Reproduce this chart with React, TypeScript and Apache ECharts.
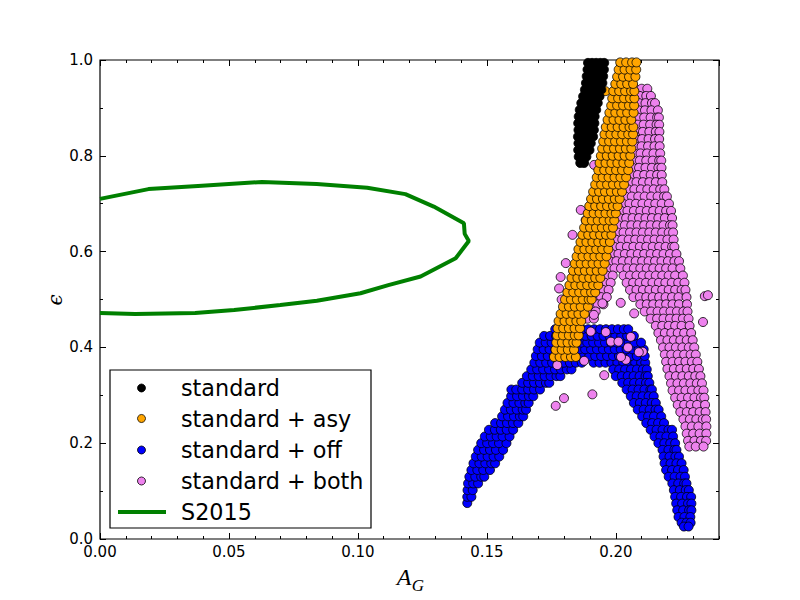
import React, { useEffect, useRef } from "react";
import * as echarts from "echarts";

// ---------- axis ranges / ticks ----------
const X_MIN = 0;
const X_MAX = 0.24;
const X_MAJOR = 0.05;
const X_MINOR = 0.01;
const Y_MIN = 0;
const Y_MAX = 1.0;
const Y_MAJOR = 0.2;

const seriesNames = ["standard", "standard + asy", "standard + off", "standard + both", "S2015"];
const seriesColors = ["#000000", "#FFA500", "#0000FF", "#EE82EE", "#008000"];

// ---------- data (rows: [epsilon, A_G values...]) ----------
const standardRows: number[][] = [
  [0.785, 0.1862, 0.1877],
  [0.798, 0.1856, 0.1871, 0.1886],
  [0.812, 0.1854, 0.1869, 0.1884, 0.1898],
  [0.826, 0.1855, 0.1871, 0.1887, 0.1903],
  [0.84, 0.1853, 0.1869, 0.1885, 0.1901, 0.1912],
  [0.854, 0.1855, 0.1871, 0.1887, 0.1903, 0.1915],
  [0.868, 0.1854, 0.187, 0.1886, 0.1902, 0.1917],
  [0.882, 0.1856, 0.1872, 0.1888, 0.1904, 0.1918],
  [0.896, 0.186, 0.1876, 0.1892, 0.1908, 0.1924],
  [0.91, 0.1866, 0.1882, 0.1898, 0.1914, 0.193],
  [0.924, 0.1873, 0.1889, 0.1905, 0.1921, 0.1937],
  [0.938, 0.188, 0.1896, 0.1912, 0.1928, 0.1944],
  [0.952, 0.1884, 0.19, 0.1916, 0.1932, 0.1948],
  [0.966, 0.1887, 0.1903, 0.1919, 0.1935, 0.1951],
  [0.98, 0.189, 0.1906, 0.1922, 0.1938, 0.1954],
  [0.994, 0.1892, 0.1908, 0.1924, 0.194, 0.1955],
];

const asyRows: number[][] = [
  [0.38, 0.176, 0.1782, 0.1804, 0.1826, 0.1845],
  [0.395, 0.1766, 0.179, 0.1814, 0.1838],
  [0.41, 0.1769, 0.1791, 0.1813, 0.1835, 0.1848],
  [0.425, 0.1772, 0.1795, 0.1818, 0.1841, 0.1856],
  [0.44, 0.1774, 0.1796, 0.1818, 0.184, 0.1861],
  [0.455, 0.1778, 0.1801, 0.1824, 0.1847, 0.1866],
  [0.47, 0.1786, 0.1809, 0.1832, 0.1855, 0.1879],
  [0.485, 0.1795, 0.1818, 0.1841, 0.1864, 0.1892],
  [0.5, 0.1803, 0.1826, 0.1849, 0.1872, 0.1895, 0.1906],
  [0.515, 0.1812, 0.1835, 0.1858, 0.1881, 0.1904, 0.192],
  [0.53, 0.182, 0.1843, 0.1866, 0.1889, 0.1912, 0.1932],
  [0.545, 0.1828, 0.1851, 0.1874, 0.1897, 0.192, 0.194],
  [0.56, 0.1834, 0.1857, 0.188, 0.1903, 0.1926, 0.1949],
  [0.575, 0.1841, 0.1864, 0.1887, 0.191, 0.1933, 0.1957],
  [0.59, 0.1848, 0.1871, 0.1894, 0.1917, 0.194, 0.1964],
  [0.605, 0.1855, 0.1878, 0.1901, 0.1924, 0.1947, 0.1971],
  [0.62, 0.1863, 0.1886, 0.1909, 0.1932, 0.1955, 0.1977],
  [0.635, 0.187, 0.1893, 0.1916, 0.1939, 0.1962, 0.1983],
  [0.65, 0.1877, 0.19, 0.1923, 0.1946, 0.1969, 0.1989],
  [0.665, 0.1884, 0.1907, 0.193, 0.1953, 0.1976, 0.1994],
  [0.68, 0.1891, 0.1914, 0.1937, 0.196, 0.1983, 0.2],
  [0.695, 0.1897, 0.192, 0.1943, 0.1966, 0.1989, 0.2007],
  [0.71, 0.1904, 0.1927, 0.195, 0.1973, 0.1996, 0.2015],
  [0.725, 0.1912, 0.1935, 0.1958, 0.1981, 0.2004, 0.2024],
  [0.74, 0.192, 0.1943, 0.1966, 0.1989, 0.2012, 0.2032],
  [0.755, 0.1926, 0.1949, 0.1972, 0.1995, 0.2018, 0.204],
  [0.77, 0.1932, 0.1955, 0.1978, 0.2001, 0.2024, 0.2048],
  [0.785, 0.1937, 0.196, 0.1983, 0.2006, 0.2029, 0.2052],
  [0.8, 0.1942, 0.1965, 0.1988, 0.2011, 0.2034, 0.2056],
  [0.815, 0.1947, 0.197, 0.1993, 0.2016, 0.2039, 0.206],
  [0.83, 0.1951, 0.1974, 0.1997, 0.202, 0.2043, 0.2064],
  [0.845, 0.1956, 0.1979, 0.2002, 0.2025, 0.2048, 0.2067],
  [0.86, 0.1961, 0.1984, 0.2007, 0.203, 0.2053, 0.2068],
  [0.875, 0.1968, 0.1991, 0.2014, 0.2037, 0.206],
  [0.89, 0.1975, 0.1998, 0.2021, 0.2044, 0.2069],
  [0.905, 0.1982, 0.2005, 0.2028, 0.2051, 0.2071],
  [0.92, 0.1986, 0.2009, 0.2032, 0.2055, 0.2072],
  [0.935, 0.196, 0.199, 0.2013, 0.2036, 0.2059, 0.2072],
  [0.95, 0.1998, 0.2021, 0.2044, 0.2067],
  [0.965, 0.2005, 0.2028, 0.2051, 0.2076],
  [0.98, 0.2011, 0.2034, 0.2057, 0.2079],
  [0.995, 0.2017, 0.204, 0.2063, 0.208],
];

const offLeftRows: number[][] = [
  [0.075, 0.1424],
  [0.088, 0.1424, 0.144],
  [0.102, 0.1425, 0.1445],
  [0.116, 0.1427, 0.1447, 0.1466],
  [0.13, 0.1432, 0.1455, 0.1478, 0.149],
  [0.144, 0.144, 0.1463, 0.1486, 0.1512],
  [0.158, 0.1448, 0.1471, 0.1494, 0.1517, 0.1532],
  [0.172, 0.1457, 0.148, 0.1503, 0.1526, 0.1548],
  [0.186, 0.1466, 0.1489, 0.1512, 0.1535, 0.1563],
  [0.2, 0.1478, 0.1501, 0.1524, 0.1547, 0.1576],
  [0.214, 0.1492, 0.1515, 0.1538, 0.1561, 0.1588],
  [0.228, 0.1508, 0.1531, 0.1554, 0.1577, 0.1602],
  [0.242, 0.1532, 0.1555, 0.1578, 0.1601, 0.1622],
  [0.256, 0.1559, 0.1582, 0.1605, 0.1628, 0.1641],
  [0.27, 0.157, 0.1593, 0.1616, 0.1639, 0.1652],
  [0.284, 0.158, 0.1603, 0.1626, 0.1649, 0.1662],
  [0.298, 0.1594, 0.1617, 0.164, 0.1663, 0.168],
  [0.312, 0.1595, 0.1614, 0.1637, 0.166, 0.1683, 0.1706],
  [0.326, 0.1637, 0.166, 0.1683, 0.1706, 0.1729, 0.1742],
  [0.34, 0.1655, 0.1678, 0.1701, 0.1724, 0.1747, 0.177, 0.1785],
  [0.354, 0.1672, 0.1695, 0.1718, 0.1741, 0.1764, 0.1787, 0.181, 0.1828],
];

const offTopRows: number[][] = [
  [0.368, 0.1684, 0.1707, 0.173, 0.1753, 0.1776, 0.1799, 0.1822, 0.1845, 0.1868, 0.1914, 0.1937, 0.196, 0.1983, 0.2006, 0.2029, 0.2052, 0.2075, 0.2098, 0.2114],
  [0.382, 0.169, 0.1713, 0.1736, 0.1759, 0.1782, 0.1805, 0.1828, 0.1851, 0.1874, 0.1897, 0.192, 0.1943, 0.1966, 0.1989, 0.2012, 0.2035, 0.2058, 0.2081, 0.2112],
  [0.396, 0.1697, 0.172, 0.1743, 0.1766, 0.1789, 0.1812, 0.1835, 0.1858, 0.1881, 0.1904, 0.1927, 0.195, 0.1973, 0.1996, 0.2019, 0.2042, 0.2065, 0.2088, 0.2108],
  [0.41, 0.1705, 0.1728, 0.1751, 0.1774, 0.1797, 0.182, 0.1843, 0.1866, 0.1889, 0.1912, 0.1935, 0.1958, 0.1981, 0.2004, 0.2027, 0.205, 0.2073, 0.2098],
  [0.424, 0.1722, 0.1745, 0.1768, 0.1791, 0.1814, 0.1837, 0.186, 0.1883, 0.1906, 0.1929, 0.1952, 0.1975, 0.1998, 0.2021, 0.2044, 0.207],
  [0.438, 0.1765, 0.18, 0.1835, 0.187, 0.1893, 0.1916, 0.1939, 0.1962, 0.1985, 0.2008, 0.2031, 0.2048],
];

const offRightRows: number[][] = [
  [0.354, 0.199, 0.2013, 0.2036, 0.2059, 0.2082, 0.2105, 0.212],
  [0.34, 0.2, 0.2023, 0.2046, 0.2069, 0.2092, 0.2115, 0.2124],
  [0.326, 0.2025, 0.2048, 0.2071, 0.2094, 0.2117, 0.213],
  [0.312, 0.2042, 0.2065, 0.2088, 0.2111, 0.2134, 0.214],
  [0.298, 0.2058, 0.2081, 0.2104, 0.2127, 0.2147],
  [0.284, 0.207, 0.2093, 0.2116, 0.2139, 0.2155],
  [0.27, 0.2085, 0.2108, 0.2131, 0.2154, 0.2166],
  [0.256, 0.2102, 0.2125, 0.2148, 0.2176],
  [0.242, 0.2118, 0.2141, 0.2164, 0.2187],
  [0.228, 0.2135, 0.2158, 0.2181, 0.2204, 0.2218],
  [0.214, 0.215, 0.2173, 0.2196, 0.2222],
  [0.2, 0.2165, 0.2188, 0.2211, 0.223],
  [0.186, 0.2181, 0.2204, 0.2227, 0.2235],
  [0.172, 0.2185, 0.2208, 0.2231, 0.2245],
  [0.158, 0.2189, 0.2212, 0.2235, 0.2255],
  [0.144, 0.2195, 0.2218, 0.2241, 0.2263],
  [0.13, 0.2205, 0.2228, 0.2251, 0.2268],
  [0.116, 0.2219, 0.2242, 0.2265, 0.2274],
  [0.102, 0.2225, 0.2248, 0.2271, 0.2283],
  [0.088, 0.223, 0.2253, 0.2276, 0.2292],
  [0.074, 0.2234, 0.2257, 0.228, 0.2293],
  [0.06, 0.2238, 0.2261, 0.2284, 0.2293],
  [0.046, 0.2243, 0.2266, 0.2289],
  [0.034, 0.2255, 0.2274, 0.229],
  [0.026, 0.2264, 0.2282],
];

const bothRows: number[][] = [
  [0.94, 0.2075, 0.21, 0.2122],
  [0.925, 0.2068, 0.2093, 0.2118, 0.2136],
  [0.91, 0.2065, 0.209, 0.2115, 0.214, 0.2152],
  [0.895, 0.2063, 0.2088, 0.2113, 0.2138, 0.2163],
  [0.88, 0.206, 0.2085, 0.211, 0.2135, 0.216, 0.2167],
  [0.865, 0.2058, 0.2083, 0.2108, 0.2133, 0.2158, 0.2168],
  [0.85, 0.2055, 0.208, 0.2105, 0.213, 0.2155, 0.2169],
  [0.835, 0.2052, 0.2077, 0.2102, 0.2127, 0.2152, 0.2168],
  [0.82, 0.205, 0.2075, 0.21, 0.2125, 0.215, 0.217],
  [0.805, 0.2046, 0.2071, 0.2096, 0.2121, 0.2146, 0.2172],
  [0.79, 0.2043, 0.2068, 0.2093, 0.2118, 0.2143, 0.2168, 0.2176],
  [0.775, 0.204, 0.2065, 0.209, 0.2115, 0.214, 0.2165, 0.2177],
  [0.76, 0.2035, 0.206, 0.2085, 0.211, 0.2135, 0.216, 0.2178],
  [0.745, 0.203, 0.2055, 0.208, 0.2105, 0.213, 0.2155, 0.218],
  [0.73, 0.2022, 0.2047, 0.2072, 0.2097, 0.2122, 0.2147, 0.2172, 0.2188],
  [0.715, 0.2012, 0.2037, 0.2062, 0.2087, 0.2112, 0.2137, 0.2162, 0.2187, 0.2198],
  [0.7, 0.2003, 0.2028, 0.2053, 0.2078, 0.2103, 0.2128, 0.2153, 0.2178, 0.2206],
  [0.685, 0.1995, 0.202, 0.2045, 0.207, 0.2095, 0.212, 0.2145, 0.217, 0.2195, 0.2214],
  [0.67, 0.199, 0.2015, 0.204, 0.2065, 0.209, 0.2115, 0.214, 0.2165, 0.219, 0.2218],
  [0.655, 0.1985, 0.201, 0.2035, 0.206, 0.2085, 0.211, 0.2135, 0.216, 0.2185, 0.221, 0.222],
  [0.64, 0.198, 0.2005, 0.203, 0.2055, 0.208, 0.2105, 0.213, 0.2155, 0.218, 0.2205, 0.2222],
  [0.625, 0.1975, 0.2, 0.2025, 0.205, 0.2075, 0.21, 0.2125, 0.215, 0.2175, 0.22, 0.2224],
  [0.61, 0.1968, 0.1993, 0.2018, 0.2043, 0.2068, 0.2093, 0.2118, 0.2143, 0.2168, 0.2193, 0.2218, 0.2227],
  [0.595, 0.196, 0.1985, 0.201, 0.2035, 0.206, 0.2085, 0.211, 0.2135, 0.216, 0.2185, 0.221, 0.2235],
  [0.58, 0.1952, 0.1977, 0.2002, 0.2027, 0.2052, 0.2077, 0.2102, 0.2127, 0.2152, 0.2177, 0.2202, 0.2227, 0.2245],
  [0.565, 0.1945, 0.197, 0.1995, 0.202, 0.2045, 0.207, 0.2095, 0.212, 0.2145, 0.217, 0.2195, 0.222, 0.225],
  [0.55, 0.194, 0.1965, 0.1988, 0.203, 0.2055, 0.208, 0.2105, 0.213, 0.2155, 0.218, 0.2205, 0.223, 0.226],
  [0.535, 0.1932, 0.1957, 0.198, 0.2042, 0.2067, 0.2092, 0.2117, 0.2142, 0.2167, 0.2192, 0.2217, 0.2242, 0.2266],
  [0.52, 0.1925, 0.195, 0.1972, 0.2055, 0.208, 0.2105, 0.213, 0.2155, 0.218, 0.2205, 0.223, 0.2255, 0.227],
  [0.505, 0.1918, 0.1943, 0.1965, 0.2068, 0.2093, 0.2118, 0.2143, 0.2168, 0.2193, 0.2218, 0.2243, 0.2274],
  [0.49, 0.1905, 0.193, 0.1952, 0.2095, 0.212, 0.2145, 0.217, 0.2195, 0.222, 0.2245, 0.2276],
  [0.475, 0.1895, 0.1922, 0.2112, 0.2137, 0.2162, 0.2187, 0.2212, 0.2237, 0.2262, 0.2278],
  [0.46, 0.189, 0.1915, 0.2135, 0.216, 0.2185, 0.221, 0.2235, 0.226, 0.2282],
  [0.445, 0.2155, 0.218, 0.2205, 0.223, 0.2255, 0.2286],
  [0.43, 0.2165, 0.219, 0.2215, 0.224, 0.2265, 0.2292],
  [0.415, 0.2175, 0.22, 0.2225, 0.225, 0.2275, 0.2298],
  [0.4, 0.2183, 0.2208, 0.2233, 0.2258, 0.2283, 0.2304],
  [0.385, 0.219, 0.2215, 0.224, 0.2265, 0.229, 0.231],
  [0.37, 0.2195, 0.222, 0.2245, 0.227, 0.2295, 0.2316],
  [0.355, 0.22, 0.2225, 0.225, 0.2275, 0.23, 0.2322],
  [0.34, 0.2208, 0.2233, 0.2258, 0.2283, 0.2308, 0.2328],
  [0.325, 0.2214, 0.2239, 0.2264, 0.2289, 0.2314, 0.2334],
  [0.31, 0.222, 0.2245, 0.227, 0.2295, 0.232, 0.234],
  [0.295, 0.223, 0.2255, 0.228, 0.2305, 0.233, 0.2343],
  [0.28, 0.224, 0.2265, 0.229, 0.2315, 0.2346],
  [0.265, 0.225, 0.2275, 0.23, 0.2325, 0.2348],
  [0.25, 0.2262, 0.2287, 0.2312, 0.2337, 0.235],
  [0.235, 0.227, 0.2295, 0.232, 0.2351],
  [0.22, 0.2275, 0.23, 0.2325, 0.2351],
  [0.205, 0.228, 0.2305, 0.233, 0.235],
  [0.193, 0.2285, 0.231, 0.234],
];

// scattered "standard + both" points ([A_G, epsilon])
const bothExtra: number[][] = [
  [0.1832, 0.635], [0.178, 0.523], [0.1806, 0.576], [0.1786, 0.547], [0.1864, 0.687],
  [0.1883, 0.666], [0.1916, 0.781], [0.1773, 0.363], [0.1799, 0.294], [0.1767, 0.278],
  [0.1909, 0.302], [0.1877, 0.372], [0.1955, 0.342], [0.1903, 0.433], [0.1981, 0.412],
  [0.2058, 0.422], [0.2104, 0.391], [0.2039, 0.374], [0.2071, 0.471], [0.1948, 0.492],
  [0.2019, 0.493], [0.1915, 0.468], [0.1961, 0.432], [0.201, 0.412], [0.2047, 0.4],
  [0.2089, 0.39], [0.202, 0.38], [0.179, 0.5], [0.18, 0.485], [0.1814, 0.51],
  [0.2345, 0.507], [0.2357, 0.509], [0.2338, 0.453],
];

// S2015 contour ([A_G, epsilon])
const s2015Curve: number[][] = [
  [0.0, 0.71], [0.0188, 0.7305], [0.038, 0.737], [0.0628, 0.7455], [0.084, 0.741],
  [0.1036, 0.7335], [0.1184, 0.72], [0.1294, 0.694], [0.1411, 0.659], [0.1414, 0.637],
  [0.143, 0.622], [0.1379, 0.586], [0.1243, 0.548], [0.1118, 0.53], [0.101, 0.513],
  [0.0841, 0.4975], [0.0699, 0.4885], [0.052, 0.478], [0.0369, 0.4718], [0.0136, 0.4697],
  [0.0, 0.4718],
];

const rowsToPoints = (rows: number[][]) =>
  rows.flatMap((r) => r.slice(1).map((x) => [x, r[0]]));

const TICK_FONT = "DejaVu Sans";

function makeXAxis(position: string, interval: number, length: number, labels: boolean) {
  return {
    type: "value",
    position,
    min: X_MIN,
    max: X_MAX,
    interval,
    axisLine: { show: false, onZero: false },
    axisTick: { show: true, inside: true, length, lineStyle: { color: "#000", width: 1 } },
    axisLabel: {
      show: labels,
      showMaxLabel: false,
      margin: 5,
      color: "#000",
      fontFamily: TICK_FONT,
      fontSize: 15,
      formatter: (v: number) => v.toFixed(2),
    },
    splitLine: { show: false },
  };
}

function makeYAxis(position: string, labels: boolean) {
  return {
    type: "value",
    position,
    min: Y_MIN,
    max: Y_MAX,
    interval: Y_MAJOR,
    axisLine: { show: false, onZero: false },
    axisTick: { show: true, inside: true, length: 6, lineStyle: { color: "#000", width: 1 } },
    minorTick: { show: true, splitNumber: 2, length: 3, lineStyle: { color: "#000", width: 1 } },
    axisLabel: {
      show: labels,
      margin: 7,
      color: "#000",
      fontFamily: TICK_FONT,
      fontSize: 15,
      formatter: (v: number) => v.toFixed(1),
    },
    splitLine: { show: false },
  };
}

const LEGEND_X = 110;
const LEGEND_Y = 370;
const LEGEND_W = 261;
const LEGEND_H = 158;
const LEGEND_ROWS = [388, 418.5, 450, 481, 512];

export default function App() {
  const ref = useRef<HTMLDivElement>(null);

  useEffect(() => {
    if (!ref.current) return;
    const chart = echarts.init(ref.current, undefined, { renderer: "svg" });

    const scatter = (idx: number, data: number[][], z: number) => ({
      type: "scatter",
      name: seriesNames[idx],
      data,
      symbol: "circle",
      symbolSize: 9,
      xAxisIndex: 0,
      yAxisIndex: 0,
      z,
      itemStyle: { color: seriesColors[idx], borderColor: "#000", borderWidth: 0.8, opacity: 1 },
      emphasis: { disabled: true },
    });

    const legendGraphics: any[] = [
      {
        type: "rect",
        shape: { x: LEGEND_X, y: LEGEND_Y, width: LEGEND_W, height: LEGEND_H },
        style: { fill: "#fff", stroke: "#000", lineWidth: 1.2 },
        z: 100,
      },
    ];
    seriesNames.forEach((name, i) => {
      const cy = LEGEND_ROWS[i];
      if (i < 4) {
        legendGraphics.push({
          type: "circle",
          shape: { cx: 141.5, cy, r: 4 },
          style: { fill: seriesColors[i], stroke: "#000", lineWidth: 0.8 },
          z: 101,
        });
      } else {
        legendGraphics.push({
          type: "line",
          shape: { x1: 118, y1: cy, x2: 166, y2: cy },
          style: { stroke: seriesColors[i], lineWidth: 4 },
          z: 101,
        });
      }
      legendGraphics.push({
        type: "text",
        x: 181,
        y: cy,
        z: 101,
        style: {
          text: name,
          fill: "#000",
          font: `22.3px "${TICK_FONT}"`,
          textAlign: "left",
          textVerticalAlign: "middle",
          align: "left",
          verticalAlign: "middle",
        },
      });
    });

    const option: any = {
      animation: false,
      backgroundColor: "#fff",
      grid: {
        left: 100,
        right: 81,
        top: 60,
        bottom: 61,
        show: true,
        borderColor: "#000",
        borderWidth: 1.2,
        backgroundColor: "transparent",
      },
      xAxis: [
        makeXAxis("bottom", X_MAJOR, 6, true),
        makeXAxis("bottom", X_MINOR, 3, false),
        makeXAxis("top", X_MAJOR, 6, false),
        makeXAxis("top", X_MINOR, 3, false),
      ],
      yAxis: [makeYAxis("left", true), makeYAxis("right", false)],
      series: [
        scatter(2, [...rowsToPoints(offLeftRows), ...rowsToPoints(offTopRows), ...rowsToPoints(offRightRows)], 2),
        scatter(3, [...rowsToPoints(bothRows), ...bothExtra], 3),
        scatter(1, rowsToPoints(asyRows), 4),
        scatter(0, rowsToPoints(standardRows), 5),
        {
          type: "line",
          name: seriesNames[4],
          data: s2015Curve,
          xAxisIndex: 0,
          yAxisIndex: 0,
          showSymbol: false,
          symbol: "none",
          smooth: false,
          z: 6,
          lineStyle: { color: seriesColors[4], width: 4 },
          itemStyle: { color: seriesColors[4] },
          emphasis: { disabled: true },
        },
      ],
      graphic: [
        ...legendGraphics,
        {
          type: "text",
          x: 55,
          y: 300,
          rotation: Math.PI / 2,
          z: 101,
          style: {
            text: "ϵ",
            fill: "#000",
            font: 'italic 20px "DejaVu Serif"',
            textAlign: "center",
            textVerticalAlign: "middle",
            align: "center",
            verticalAlign: "middle",
          },
        },
        {
          type: "text",
          x: 404,
          y: 577,
          z: 101,
          style: {
            text: "A",
            fill: "#000",
            font: 'italic 24px "Liberation Serif"',
            textAlign: "center",
            textVerticalAlign: "middle",
            align: "center",
            verticalAlign: "middle",
          },
        },
        {
          type: "text",
          x: 418,
          y: 585,
          z: 101,
          style: {
            text: "G",
            fill: "#000",
            font: 'italic 17px "Liberation Serif"',
            textAlign: "center",
            textVerticalAlign: "middle",
            align: "center",
            verticalAlign: "middle",
          },
        },
      ],
    };

    chart.setOption(option);
    return () => chart.dispose();
  }, []);

  return (
    <div
      ref={ref}
      style={{ position: "fixed", left: 0, top: 0, width: 800, height: 600, background: "#fff" }}
    />
  );
}
